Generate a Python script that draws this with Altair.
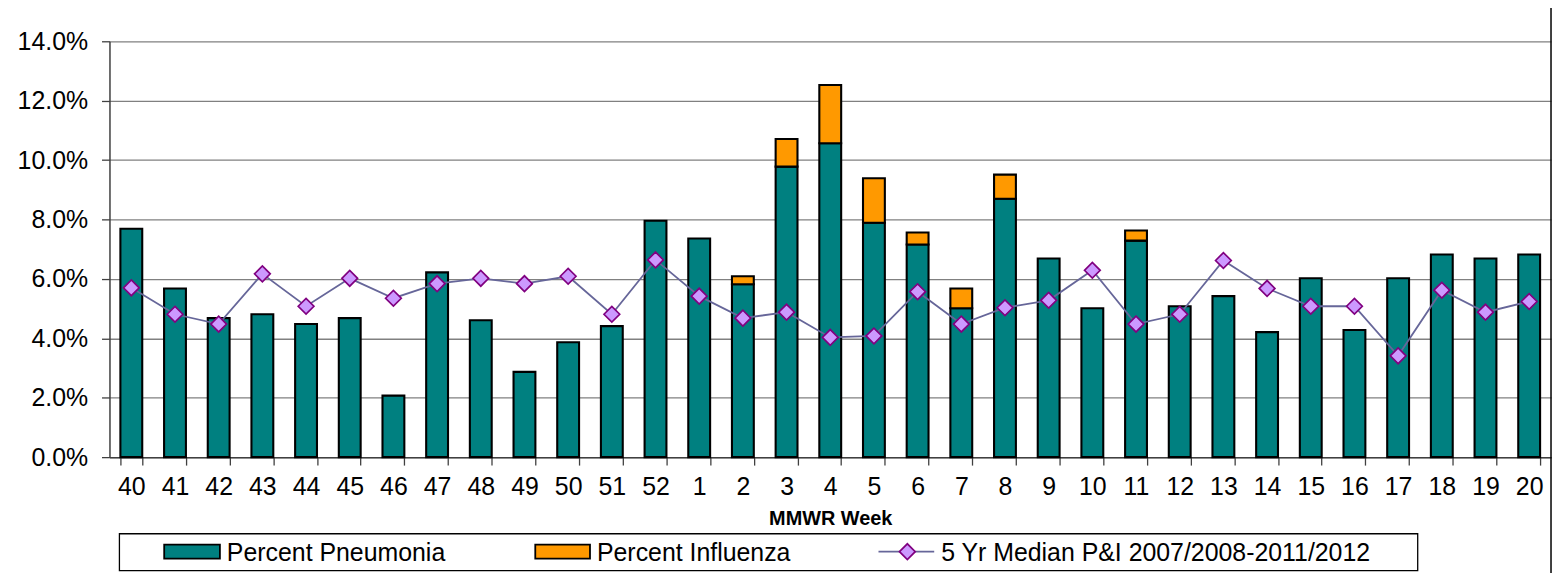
import altair as alt
import pandas as pd

weeks = ["40", "41", "42", "43", "44", "45", "46", "47", "48", "49", "50", "51", "52",
         "1", "2", "3", "4", "5", "6", "7", "8", "9", "10", "11", "12", "13", "14",
         "15", "16", "17", "18", "19", "20"]
pneumonia = [7.69, 5.68, 4.68, 4.81, 4.48, 4.68, 2.07, 6.22, 4.61, 2.87, 3.87, 4.41, 7.96,
             7.36, 5.82, 9.78, 10.57, 7.89, 7.16, 5.01, 8.70, 6.69, 5.01, 7.29, 5.08, 5.42,
             4.21, 6.02, 4.28, 6.02, 6.82, 6.69, 6.82]
influenza = [0, 0, 0, 0, 0, 0, 0, 0, 0, 0, 0, 0, 0,
             0, 0.27, 0.93, 1.96, 1.50, 0.40, 0.67, 0.81, 0, 0, 0.34, 0, 0,
             0, 0, 0, 0, 0, 0, 0]
median_pi = [5.70, 4.81, 4.48, 6.17, 5.08, 6.02, 5.35, 5.84, 6.02, 5.84, 6.09, 4.81, 6.64,
             5.42, 4.68, 4.88, 4.03, 4.08, 5.57, 4.48, 5.03, 5.28, 6.29, 4.48, 4.81, 6.62,
             5.68, 5.08, 5.08, 3.41, 5.62, 4.88, 5.24]
series_names = ["Percent Pneumonia", "Percent Influenza", "5 Yr Median P&I 2007/2008-2011/2012"]
x_title = "MMWR Week"
y_ticks = [0, 2, 4, 6, 8, 10, 12, 14]

TEAL = "#008080"
ORANGE = "#FF9900"
LAV = "#CC99FF"
PURPLE = "#800080"
LINEC = "#666699"
FONT = "Liberation Sans"

rows = []
for w, p, i in zip(weeks, pneumonia, influenza):
    rows.append({"week": w, "series": series_names[0], "y0": 0.0, "y1": p})
    if i > 0:
        rows.append({"week": w, "series": series_names[1], "y0": p, "y1": p + i})
bars_df = pd.DataFrame(rows)
med_df = pd.DataFrame({"week": weeks, "median": median_pi})

xscale = alt.Scale(domain=weeks, paddingInner=0.5, paddingOuter=0.25)
yscale = alt.Scale(domain=[0, 14], nice=False, zero=True)

xaxis = alt.Axis(
    title=x_title, labelAngle=0, tickBand="extent", labelFontSize=25, labelFont=FONT,
    labelColor="#000", labelPadding=10, tickSize=8, tickColor="#404040", tickWidth=1.3,
    domainColor="#404040", domainWidth=1.5, titleFont=FONT, titleFontSize=20,
    titleFontWeight="bold", titleColor="#000", titleY=62, titleBaseline="middle",
    grid=False,
)
yaxis = alt.Axis(
    title=None, values=y_ticks, labelExpr="format(datum.value, '.1f') + '%'",
    labelFontSize=25, labelFont=FONT, labelColor="#000", labelPadding=14, tickSize=8,
    tickColor="#404040", tickWidth=1.3, domainColor="#404040", domainWidth=1.5,
    grid=True, gridColor="#808080", gridWidth=1.3,
)

X = alt.X("week:N", scale=xscale, axis=xaxis, sort=weeks)

bars = alt.Chart(bars_df).mark_bar(stroke="#000", strokeWidth=2.1).encode(
    x=X,
    y=alt.Y("y0:Q", scale=yscale, axis=yaxis),
    y2="y1:Q",
    color=alt.Color("series:N", scale=alt.Scale(domain=series_names[:2], range=[TEAL, ORANGE]), legend=None),
)

line = alt.Chart(med_df).mark_line(color=LINEC, strokeWidth=1.8).encode(
    x=X,
    y=alt.Y("median:Q", scale=yscale, axis=yaxis),
)
pts = alt.Chart(med_df).mark_point(shape="diamond", size=250, filled=True, fill=LAV,
                                   stroke=PURPLE, strokeWidth=1.7, opacity=1).encode(
    x=X,
    y=alt.Y("median:Q", scale=yscale, axis=yaxis),
)

one = pd.DataFrame({"a": [0]})
LY = 513
legend_box = alt.Chart(one).mark_rect(fill="white", stroke="#000", strokeWidth=1.3).encode(
    x=alt.value(10), x2=alt.value(1315), y=alt.value(495), y2=alt.value(532))
sw1 = alt.Chart(one).mark_rect(fill=TEAL, stroke="#000", strokeWidth=1.8).encode(
    x=alt.value(55), x2=alt.value(111), y=alt.value(LY - 7), y2=alt.value(LY + 7))
sw2 = alt.Chart(one).mark_rect(fill=ORANGE, stroke="#000", strokeWidth=1.8).encode(
    x=alt.value(428), x2=alt.value(483), y=alt.value(LY - 7), y2=alt.value(LY + 7))
lg_rule = alt.Chart(one).mark_rule(color=LINEC, strokeWidth=1.8).encode(
    x=alt.value(773), x2=alt.value(829), y=alt.value(LY))
lg_pt = alt.Chart(one).mark_point(shape="diamond", size=250, filled=True, fill=LAV,
                                  stroke=PURPLE, strokeWidth=1.7, opacity=1).encode(
    x=alt.value(802), y=alt.value(LY))
txt_kw = dict(align="left", baseline="middle", fontSize=25, font=FONT, color="#000")
t1 = alt.Chart(one).mark_text(text=series_names[0], **txt_kw).encode(x=alt.value(118), y=alt.value(LY + 1))
t2 = alt.Chart(one).mark_text(text=series_names[1], **txt_kw).encode(x=alt.value(490), y=alt.value(LY + 1))
t3 = alt.Chart(one).mark_text(text=series_names[2], **txt_kw).encode(x=alt.value(836), y=alt.value(LY + 1))
border = alt.Chart(one).mark_rule(color="#000", strokeWidth=1.5).encode(
    x=alt.value(1449), y=alt.value(-40), y2=alt.value(600))

chart = alt.layer(
    bars, line, pts, legend_box, sw1, sw2, lg_rule, lg_pt, t1, t2, t3, border
).properties(
    width=1449, height=418,
    autosize=alt.AutoSizeParams(type="none"),
    padding={"left": 102, "top": 32, "right": 3, "bottom": 115},
    background="white",
).configure_view(stroke=None)

chart.save("out.html", embed_options={"renderer": "svg", "actions": False})
